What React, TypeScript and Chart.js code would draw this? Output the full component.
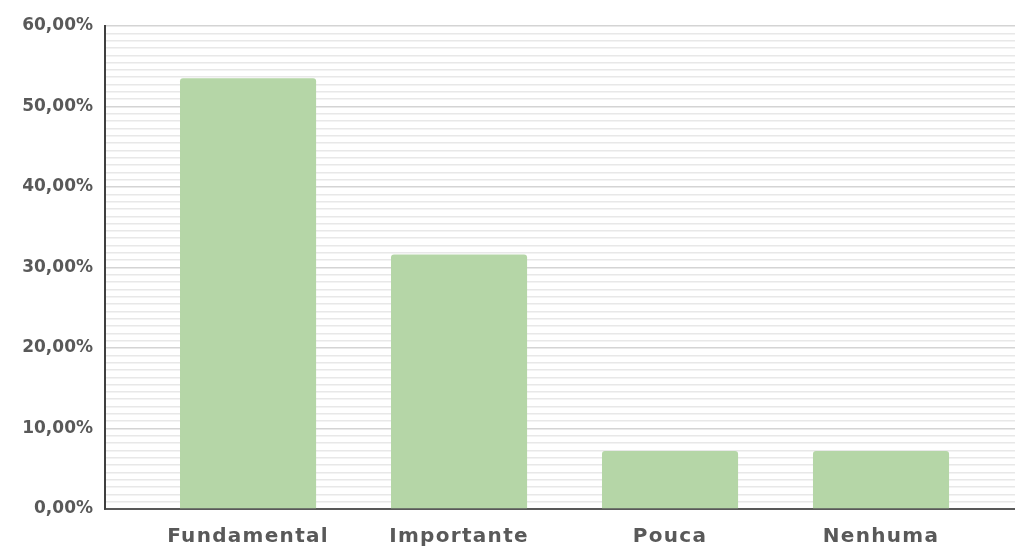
import React, { useEffect, useRef } from "react";
import { Chart, registerables } from "chart.js";

Chart.register(...registerables);

const categories = ["Fundamental", "Importante", "Pouca", "Nenhuma"];
const values = [53.5, 31.6, 7.2, 7.2];
const majorTicks = [0, 10, 20, 30, 40, 50, 60];
const minorPerMajor = 11;

const fmt = (v: number) => v.toFixed(2).replace(".", ",") + "%";

const letterSpacingPlugin = {
  id: "xLetterSpacing",
  afterDatasetsDraw(chart: any) {
    chart.ctx.letterSpacing = "1.3px";
  },
  afterDraw(chart: any) {
    chart.ctx.letterSpacing = "0px";
  },
};

export default function App() {
  const ref = useRef<HTMLCanvasElement | null>(null);
  useEffect(() => {
    if (!ref.current) return;
    const yTicks: number[] = [];
    for (let m = 0; m < majorTicks.length - 1; m++) {
      for (let k = 0; k < minorPerMajor; k++) {
        yTicks.push(majorTicks[m] + ((majorTicks[m + 1] - majorTicks[m]) * k) / minorPerMajor);
      }
    }
    yTicks.push(majorTicks[majorTicks.length - 1]);
    const chart = new Chart(ref.current, {
      type: "bar",
      data: {
        datasets: [
          {
            data: values.map((v, i) => ({ x: i, y: v })),
            backgroundColor: "#b5d6a7",
            borderRadius: 3,
            borderSkipped: "bottom",
            barPercentage: 0.645,
            categoryPercentage: 1,
          },
        ],
      },
      plugins: [letterSpacingPlugin],
      options: {
        animation: false,
        responsive: false,
        maintainAspectRatio: false,
        layout: { padding: { top: 26, right: 0, left: 0, bottom: 0 } },
        plugins: { legend: { display: false }, tooltip: { enabled: false } },
        scales: {
          x: {
            type: "linear",
            offset: false,
            min: -0.678,
            max: 3.635,
            grid: { display: false, offset: false },
            border: { color: "#595959", width: 2 },
            afterBuildTicks: (s: any) => {
              s.ticks = categories.map((_, i) => ({ value: i }));
            },
            afterFit: (s: any) => {
              s.height = 37;
            },
            ticks: {
              z: 1,
              autoSkip: false,
              maxRotation: 0,
              padding: 8,
              color: "#595959",
              font: { family: "DejaVu Sans", size: 20, weight: "bold" },
              callback: (v: any) => categories[Math.round(Number(v))] ?? "",
            },
          },
          y: {
            min: 0,
            max: 60,
            border: { color: "#404040", width: 2 },
            grid: {
              drawTicks: false,
              color: (ctx: any) => (ctx.index % minorPerMajor === 0 ? "#d4d4d4" : "#e8e8e8"),
              lineWidth: 1.5,
            },
            afterBuildTicks: (s: any) => {
              s.ticks = yTicks.map((v) => ({ value: v }));
            },
            afterFit: (s: any) => {
              s.width = 105;
            },
            ticks: {
              autoSkip: false,
              padding: 12,
              color: "#595959",
              font: { family: "DejaVu Sans", size: 17, weight: "bold" },
              callback: (v: any, i: number) => (i % minorPerMajor === 0 ? fmt(majorTicks[i / minorPerMajor]) : ""),
            },
          },
        },
      },
    } as any);
    return () => chart.destroy();
  }, []);
  return (
    <div style={{ position: "fixed", left: 0, top: 0, width: 1015, height: 546, background: "#fff" }}>
      <canvas ref={ref} width={1015} height={546} style={{ display: "block" }} />
    </div>
  );
}
